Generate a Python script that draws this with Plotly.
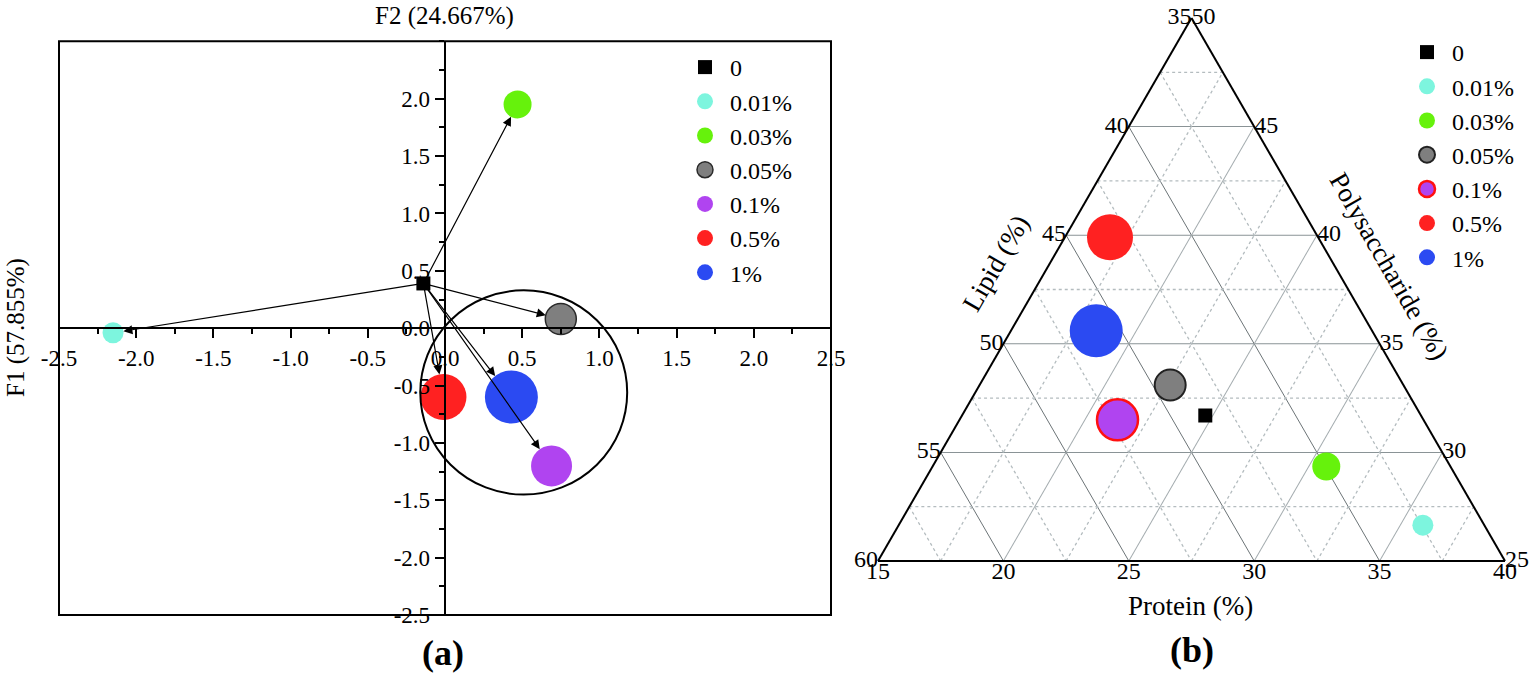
import plotly.graph_objects as go

# ---------------- data ----------------
categories = ["0", "0.01%", "0.03%", "0.05%", "0.1%", "0.5%", "1%"]
colors = ["#000000", "#7DF5DE", "#66F20C", "#7F7F7F", "#B044F0", "#FF2121", "#2B4AF2"]
symbols = ["square", "circle", "circle", "circle", "circle", "circle", "circle"]
marker_sizes = [14, 21, 28, 31, 41, 46, 53]

# panel (a): PCA scores
f1_scores = [-0.14, -2.15, 0.47, 0.75, 0.69, -0.01, 0.43]
f2_scores = [0.39, -0.04, 1.95, 0.08, -1.20, -0.60, -0.60]
ellipse_center = [0.51, -0.56]
ellipse_radii = [0.67, 0.89]

x_ticks = [-2.5, -2.0, -1.5, -1.0, -0.5, 0.0, 0.5, 1.0, 1.5, 2.0, 2.5]
y_ticks = [-2.5, -2.0, -1.5, -1.0, -0.5, 0.0, 0.5, 1.0, 1.5, 2.0]

# panel (b): composition (%)
protein = [24.7, 35.9, 30.7, 22.6, 21.3, 16.8, 18.4]
lipid = [43.6, 37.45, 39.95, 44.3, 47.2, 43.3, 46.0]
polysaccharide = [31.7, 26.65, 29.35, 33.1, 31.5, 39.9, 35.6]

protein_ticks = [15, 20, 25, 30, 35, 40]
lipid_ticks = [35, 40, 45, 50, 55, 60]
poly_ticks = [25, 30, 35, 40, 45, 50]

SERIF = "Liberation Serif, Times New Roman, serif"
TOTAL = 100
p_min, l_min, s_min = min(protein_ticks), min(lipid_ticks), min(poly_ticks)

fig = go.Figure()

# ---------------- panel (a) ----------------
line_a = [dict(width=0)] * 7
line_a[3] = dict(color="#2a2a2a", width=1.5)
for i, cat in enumerate(categories):
    fig.add_trace(go.Scatter(
        x=[f1_scores[i]], y=[f2_scores[i]], mode="markers", name=cat,
        marker=dict(symbol=symbols[i], size=marker_sizes[i], color=colors[i], line=line_a[i]),
        legend="legend", xaxis="x", yaxis="y", hoverinfo="name"))

# ---------------- panel (b) ----------------
# minor dotted grid lines
ga, gb, gc = [], [], []
for v in [t + 2.5 for t in poly_ticks[:-1]]:
    ga += [v, v, None]; gb += [TOTAL - p_min - v, l_min, None]; gc += [p_min, TOTAL - l_min - v, None]
for v in [t + 2.5 for t in lipid_ticks[:-1]]:
    ga += [TOTAL - p_min - v, s_min, None]; gb += [v, v, None]; gc += [p_min, TOTAL - s_min - v, None]
for v in [t + 2.5 for t in protein_ticks[:-1]]:
    ga += [s_min, TOTAL - l_min - v, None]; gb += [TOTAL - s_min - v, l_min, None]; gc += [v, v, None]
fig.add_trace(go.Scatterternary(a=ga, b=gb, c=gc, mode="lines", subplot="ternary",
                                line=dict(color="#b4bcbf", width=1.3, dash="dot"),
                                showlegend=False, hoverinfo="skip", connectgaps=False))

line_b = [dict(width=0)] * 7
line_b[3] = dict(color="#222222", width=2)
line_b[4] = dict(color="#FF1010", width=2.5)
for i, cat in enumerate(categories):
    fig.add_trace(go.Scatterternary(
        a=[polysaccharide[i]], b=[lipid[i]], c=[protein[i]], mode="markers", name=cat,
        marker=dict(symbol=symbols[i], size=marker_sizes[i], color=colors[i], line=line_b[i]),
        legend="legend2", subplot="ternary", hoverinfo="name"))

# tick labels of the ternary (clockwise convention)
tfont = dict(family=SERIF, size=24, color="black")
fig.add_trace(go.Scatterternary(
    a=[TOTAL - p_min - v for v in lipid_ticks], b=lipid_ticks, c=[p_min] * len(lipid_ticks),
    text=[str(v) for v in lipid_ticks], mode="text", textposition="middle left",
    textfont=tfont, showlegend=False, hoverinfo="skip", subplot="ternary", cliponaxis=False))
fig.add_trace(go.Scatterternary(
    a=poly_ticks, b=[l_min] * len(poly_ticks), c=[TOTAL - l_min - v for v in poly_ticks],
    text=[str(v) for v in poly_ticks], mode="text", textposition="middle right",
    textfont=tfont, showlegend=False, hoverinfo="skip", subplot="ternary", cliponaxis=False))
fig.add_trace(go.Scatterternary(
    a=[s_min] * len(protein_ticks), b=[TOTAL - s_min - v for v in protein_ticks], c=protein_ticks,
    text=[str(v) for v in protein_ticks], mode="text", textposition="bottom center",
    textfont=tfont, showlegend=False, hoverinfo="skip", subplot="ternary", cliponaxis=False))

# ---------------- arrows in (a) ----------------
annotations = []
for i in range(1, 7):
    annotations.append(dict(
        x=f1_scores[i], y=f2_scores[i], ax=f1_scores[0], ay=f2_scores[0],
        xref="x", yref="y", axref="x", ayref="y", text="", showarrow=True,
        arrowhead=2, arrowsize=1.5, arrowwidth=1.2, arrowcolor="black",
        standoff=marker_sizes[i] / 2))

def txt(s, x, y, size, angle=0, bold=False):
    return dict(text=f"<b>{s}</b>" if bold else s, x=x / 1536, y=1 - y / 676,
                xref="paper", yref="paper", showarrow=False, textangle=angle,
                font=dict(family=SERIF, size=size, color="black"),
                xanchor="center", yanchor="middle")

annotations += [
    txt("F2 (24.667%)", 444, 16, 25),
    txt("F1 (57.855%)", 16, 328, 25, angle=-90),
    txt("(a)", 443, 653, 36, bold=True),
    txt("(b)", 1192, 650, 36, bold=True),
    txt("Protein (%)", 1190, 606, 27),
    txt("Lipid (%)", 996, 263, 27, angle=-60),
    txt("Polysaccharide (%)", 1389, 266, 27, angle=60),
]

axis_common = dict(showgrid=False, zeroline=False, showline=True, linecolor="black", linewidth=2,
                   ticks="outside", ticklen=9, tickwidth=1.8, tickcolor="black",
                   tickfont=dict(family=SERIF, size=23, color="black"), anchor="free")

tern_axis = dict(showticklabels=False, ticks="", showline=True, linecolor="black", linewidth=2,
                 showgrid=True, gridwidth=1.3, dtick=5, tick0=0, title=dict(text=""))

fig.update_layout(
    width=1536, height=676, margin=dict(l=0, r=0, t=0, b=0, autoexpand=False),
    paper_bgcolor="white", plot_bgcolor="white",
    font=dict(family=SERIF, color="black"),
    xaxis=dict(axis_common, domain=[59 / 1536, 831 / 1536], range=[-2.5, 2.5],
               position=(676 - 328.2) / 676, side="bottom",
               tickvals=x_ticks, ticktext=[f"{v:.1f}" for v in x_ticks],
               minor=dict(ticks="outside", ticklen=5, tickwidth=1.5, dtick=0.25, tick0=0, tickcolor="black")),
    yaxis=dict(axis_common, domain=[(676 - 615.1) / 676, (676 - 41.3) / 676], range=[-2.5, 2.5],
               position=444.7 / 1536, side="left",
               tickvals=y_ticks, ticktext=[f"{v:.1f}" for v in y_ticks],
               minor=dict(ticks="outside", ticklen=5, tickwidth=1.5, dtick=0.25, tick0=0, tickcolor="black")),
    ternary=dict(
        domain=dict(x=[878 / 1536, 1505 / 1536], y=[1 - 561 / 676, 1 - 18 / 676]),
        sum=TOTAL, bgcolor="white",
        aaxis=dict(tern_axis, min=s_min, gridcolor="#8a9396"),
        baxis=dict(tern_axis, min=l_min, gridcolor="#6c7477"),
        caxis=dict(tern_axis, min=p_min, gridcolor="#a4acaf"),
    ),
    legend=dict(x=680 / 1536, y=1 - 45 / 676, xanchor="left", yanchor="top",
                font=dict(family=SERIF, size=24, color="black"), bgcolor="rgba(0,0,0,0)",
                itemwidth=40, tracegroupgap=0),
    legend2=dict(x=1402 / 1536, y=1 - 30 / 676, xanchor="left", yanchor="top",
                 font=dict(family=SERIF, size=24, color="black"), bgcolor="rgba(0,0,0,0)",
                 itemwidth=40, tracegroupgap=0),
    annotations=annotations,
    shapes=[
        dict(type="rect", xref="x domain", yref="y domain", x0=0, x1=1, y0=0, y1=1,
             line=dict(color="black", width=2), layer="above"),
        dict(type="circle", xref="x", yref="y",
             x0=ellipse_center[0] - ellipse_radii[0], x1=ellipse_center[0] + ellipse_radii[0],
             y0=ellipse_center[1] - ellipse_radii[1], y1=ellipse_center[1] + ellipse_radii[1],
             line=dict(color="black", width=2), layer="above"),
    ],
)

fig.write_html("out.html", post_script="document.body.style.margin='0';",
               config={"displayModeBar": False})
